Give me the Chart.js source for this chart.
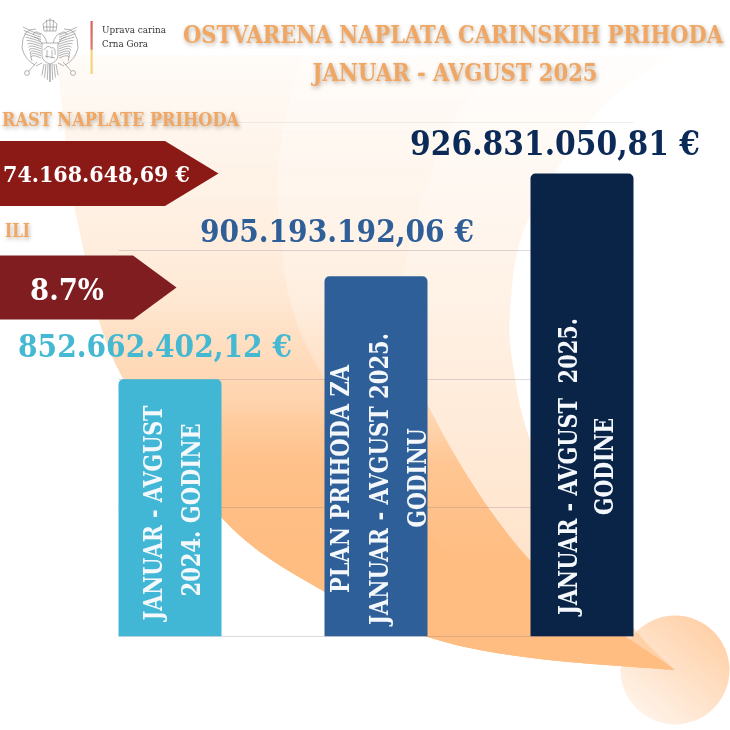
<!DOCTYPE html>
<html><head><meta charset="utf-8">
<style>html,body{margin:0;padding:0;background:#fff}#wrap{width:730px;height:730px;position:relative}</style>
<script src="https://cdn.jsdelivr.net/npm/chart.js@4"></script>
</head><body><div id="wrap"><canvas id="c" width="730" height="730"></canvas></div>
<script>
// Categories and the euro amounts printed in the picture
const categories = ["JANUAR - AVGUST 2024. GODINE", "PLAN PRIHODA ZA JANUAR - AVGUST 2025. GODINU", "JANUAR - AVGUST 2025. GODINE"];
const printedValues = ["852.662.402,12 €", "905.193.192,06 €", "926.831.050,81 €"];
// Bar heights as drawn, read against the picture's unlabelled gridlines (0-1000, step 250).
// The source graphic's bars are illustrative and not proportional to the printed amounts.
const barHeights = [500, 700, 900];
const barLines = [
  ["JANUAR - AVGUST", "2024. GODINE"],
  ["PLAN PRIHODA ZA", "JANUAR - AVGUST 2025.", "GODINU"],
  ["JANUAR - AVGUST  2025.", "GODINE"]
];
const titleLines = ["OSTVARENA NAPLATA CARINSKIH PRIHODA", "JANUAR - AVGUST 2025"];
const growthHeading = "RAST NAPLATE PRIHODA";
const growthAmount = "74.168.648,69 €";
const orWord = "ILI";
const growthPercent = "8.7%";
const orgLines = ["Uprava carina", "Crna Gora"];

const SERIF = '"DejaVu Serif"';
const barColors = ["#41B7D5", "#2F5F98", "#0A2448"];
const valueStyle = [
  {color:"#45B8D2", px:31, w:274, cx:155, base:357},
  {color:"#2F5F98", px:32, w:274, cx:337, base:242},
  {color:"#0B2A57", px:34, w:290, cx:555, base:155}
];
const lineStyle = [
  {xs:[152,190], cy:[513,510], w:[215,173]},
  {xs:[339.5,378,416], cy:[479,479,478], w:[228,292,99]},
  {xs:[567,603], cy:[466.5,466.5], w:[297,97]}
];

function fitText(ctx, text, x, y, px, width, color, opts) {
  opts = opts || {};
  ctx.save();
  ctx.font = (opts.weight || "bold") + " " + px + "px " + SERIF;
  ctx.fillStyle = color;
  ctx.textBaseline = "alphabetic";
  ctx.textAlign = "center";
  const m = ctx.measureText(text).width;
  ctx.translate(x, y);
  if (opts.rot) ctx.rotate(opts.rot);
  ctx.scale(width / m, 1);
  if (opts.shadow) { ctx.shadowColor = "rgba(90,60,30,.4)"; ctx.shadowBlur = 4; ctx.shadowOffsetX = 1; ctx.shadowOffsetY = 2; }
  ctx.fillText(text, 0, 0);
  ctx.restore();
}

function smooth(ctx, pts, move) {
  if (move) ctx.moveTo(pts[0][0], pts[0][1]); else ctx.lineTo(pts[0][0], pts[0][1]);
  for (let i = 0; i < pts.length - 1; i++) {
    const p0 = pts[Math.max(i-1,0)], p1 = pts[i], p2 = pts[i+1], p3 = pts[Math.min(i+2,pts.length-1)];
    ctx.bezierCurveTo(p1[0]+(p2[0]-p0[0])/6, p1[1]+(p2[1]-p0[1])/6, p2[0]-(p3[0]-p1[0])/6, p2[1]-(p3[1]-p1[1])/6, p2[0], p2[1]);
  }
}
function vGrad(ctx, stops) {
  const g = ctx.createLinearGradient(0,55,0,672);
  stops.forEach(s => g.addColorStop((s[0]-55)/617, "rgba(255,189,130,"+s[1]+")"));
  return g;
}
const leftEdge = [[58,55],[60,87],[67,150],[80,233],[117,367],[221,517],[325,592],[428,637],[532,658],[675,670]];
const rightEdge = [[675,670],[633,627],[585,550],[531,442],[513,365],[510,313],[522,235],[565,157],[610,100],[672,55]];
const midEdge = [[675,670],[530,560],[427,403],[405,300],[408,250],[440,150],[475,90],[520,55]];
const innerEdge = [[675,670],[530,625],[400,500],[325,381],[290,300],[278,200],[283,130],[303,55]];

function drawBackdrop(ctx) {
  ctx.save();
  const cg = ctx.createLinearGradient(715,625,640,715);
  cg.addColorStop(0,"#FFCFA5"); cg.addColorStop(1,"#FFF3E9");
  ctx.fillStyle = cg; ctx.beginPath(); ctx.arc(675,670,54.5,0,Math.PI*2); ctx.fill();
  ctx.beginPath(); smooth(ctx,leftEdge,true); smooth(ctx,rightEdge,false); ctx.closePath();
  ctx.fillStyle = vGrad(ctx,[[55,.02],[200,.12],[420,.3],[672,.5]]); ctx.fill();
  ctx.beginPath(); smooth(ctx,leftEdge,true); smooth(ctx,midEdge,false); ctx.closePath();
  ctx.fillStyle = vGrad(ctx,[[55,.02],[300,.06],[403,.36],[465,.8],[560,1],[672,1]]); ctx.fill();
  ctx.beginPath(); smooth(ctx,leftEdge,true); smooth(ctx,innerEdge,false); ctx.closePath();
  ctx.fillStyle = vGrad(ctx,[[55,.02],[250,.08],[400,.25],[520,.8],[672,1]]); ctx.fill();
  ctx.restore();
}

function drawCrest(ctx) {
  ctx.save();
  ctx.strokeStyle = "#808080"; ctx.lineWidth = .6; ctx.fillStyle = "#fff";
  const cx = 50;
  [-1,1].forEach(s => {
    const X = d => cx + s*d;
    for (let i = 0; i < 11; i++) {
      ctx.beginPath();
      ctx.moveTo(X(9), 35 + i*2.3);
      ctx.quadraticCurveTo(X(18+i*.4), 32+i*2, X(27-i*.9), 27+i*3.4);
      ctx.stroke();
    }
    ctx.beginPath(); ctx.moveTo(X(14),29); ctx.quadraticCurveTo(X(28),28,X(28),48); ctx.quadraticCurveTo(X(25),60,X(15),65); ctx.stroke();
    ctx.beginPath(); ctx.moveTo(X(3),44); ctx.quadraticCurveTo(X(5),34,X(11),33); ctx.quadraticCurveTo(X(15),30,X(17),35); ctx.moveTo(X(7),46); ctx.quadraticCurveTo(X(10),38,X(16),37); ctx.stroke();
    ctx.beginPath(); ctx.moveTo(X(8),63); ctx.lineTo(X(14),66); ctx.moveTo(X(13),62); ctx.lineTo(X(22),72); ctx.stroke();
    ctx.beginPath(); ctx.arc(X(23),73,2.4,0,7); ctx.fill(); ctx.stroke();
    for (let i = 0; i < 4; i++) { ctx.beginPath(); ctx.moveTo(X(i*2),64); ctx.lineTo(X(i*2.7),82-i*2.2); ctx.stroke(); }
  });
  ctx.beginPath(); ctx.moveTo(cx-6,31); ctx.lineTo(cx-7,24); ctx.quadraticCurveTo(cx,16,cx+7,24); ctx.lineTo(cx+6,31); ctx.closePath(); ctx.stroke();
  ctx.beginPath(); ctx.moveTo(cx,18); ctx.lineTo(cx,31); ctx.moveTo(cx-3.5,20); ctx.lineTo(cx-3,31); ctx.moveTo(cx+3.5,20); ctx.lineTo(cx+3,31); ctx.moveTo(cx-6.5,27); ctx.lineTo(cx+6.5,27); ctx.stroke();
  ctx.beginPath(); ctx.moveTo(cx-8,43); ctx.lineTo(cx+8,43); ctx.lineTo(cx+8,56); ctx.quadraticCurveTo(cx+7,62,cx,64); ctx.quadraticCurveTo(cx-7,62,cx-8,56); ctx.closePath(); ctx.fill(); ctx.stroke();
  ctx.beginPath(); ctx.moveTo(cx-6,50); ctx.quadraticCurveTo(cx-2,44,cx+1,48); ctx.quadraticCurveTo(cx+6,46,cx+5,55); ctx.moveTo(cx-5,56); ctx.lineTo(cx+5,58); ctx.moveTo(cx-3,50); ctx.lineTo(cx-3,58); ctx.moveTo(cx+2,50); ctx.lineTo(cx+2,58); ctx.stroke();
  ctx.restore();
  const g = ctx.createLinearGradient(0,21,0,74);
  g.addColorStop(0,"#D9605C"); g.addColorStop(.52,"#DD7A6A"); g.addColorStop(.56,"#F6D47A"); g.addColorStop(1,"#F6D47A");
  ctx.fillStyle = g; ctx.fillRect(90.5,21,2.2,53);
}

function pentagon(ctx, color, bodyEnd, top, bottom, tip) {
  ctx.fillStyle = color; ctx.beginPath();
  ctx.moveTo(0,top); ctx.lineTo(bodyEnd,top); ctx.lineTo(tip,(top+bottom)/2); ctx.lineTo(bodyEnd,bottom); ctx.lineTo(0,bottom); ctx.closePath(); ctx.fill();
}

const artwork = {
  id: "artwork",
  beforeDraw(chart) { drawBackdrop(chart.ctx); },
  beforeDatasetsDraw(chart) {
    const ctx = chart.ctx, y = chart.scales.y, bars = chart.getDatasetMeta(0).data;
    const left = bars[0].x - bars[0].width/2, right = bars[2].x + bars[2].width/2;
    ctx.save();
    y.ticks.forEach(t => {
      const py = Math.floor(y.getPixelForValue(t.value)) + .5;
      ctx.strokeStyle = t.value === 1000 ? "rgba(120,105,120,.10)" : "rgba(120,100,130,.24)";
      ctx.lineWidth = 1; ctx.beginPath(); ctx.moveTo(left,py); ctx.lineTo(right,py); ctx.stroke();
    });
    ctx.restore();
  },
  afterDraw(chart) {
    const ctx = chart.ctx;
    drawCrest(ctx);
    fitText(ctx, orgLines[0], 134, 33, 10, 64, "#333", {weight:"normal"});
    fitText(ctx, orgLines[1], 125, 47, 10, 46, "#333", {weight:"normal"});
    fitText(ctx, titleLines[0], 453, 43, 23.5, 540, "#F0A763", {shadow:true});
    fitText(ctx, titleLines[1], 455, 81, 23.5, 285, "#F0A763", {shadow:true});
    fitText(ctx, growthHeading, 120.5, 126, 19, 237, "#F0A763", {shadow:true});
    pentagon(ctx, "#8B1A17", 165, 141, 206, 218.5);
    pentagon(ctx, "#7F1D21", 133, 255.5, 319.5, 176.5);
    fitText(ctx, growthAmount, 96.5, 182, 22, 187, "#fff");
    fitText(ctx, orWord, 17.5, 237, 19, 25, "#F0A763", {shadow:true});
    fitText(ctx, growthPercent, 67, 300, 30, 74, "#fff");
    printedValues.forEach((v,i) => {
      const s = valueStyle[i];
      fitText(ctx, v, s.cx, s.base, s.px, s.w, s.color);
    });
    barLines.forEach((lines,i) => {
      const s = lineStyle[i];
      lines.forEach((l,j) => {
        fitText(ctx, l, s.xs[j] + 9.5, s.cy[j], 26, s.w[j], "#F4F8FB", {rot:-Math.PI/2});
      });
    });
  }
};

new Chart(document.getElementById("c"), {
  type: "bar",
  data: { labels: categories, datasets: [{ data: barHeights, backgroundColor: barColors, borderRadius:{topLeft:5,topRight:5,bottomLeft:0,bottomRight:0}, borderSkipped:false, barPercentage:.5, categoryPercentage:1 }] },
  plugins: [artwork],
  options: {
    responsive:false, animation:false, devicePixelRatio:1,
    layout:{padding:{left:67,right:45,top:122,bottom:93.5}},
    plugins:{legend:{display:false},tooltip:{enabled:false},title:{display:false}},
    scales:{
      x:{display:false,grid:{display:false}},
      y:{display:false,min:0,max:1000,ticks:{stepSize:250},grid:{display:false}}
    }
  }
});
</script></body></html>
